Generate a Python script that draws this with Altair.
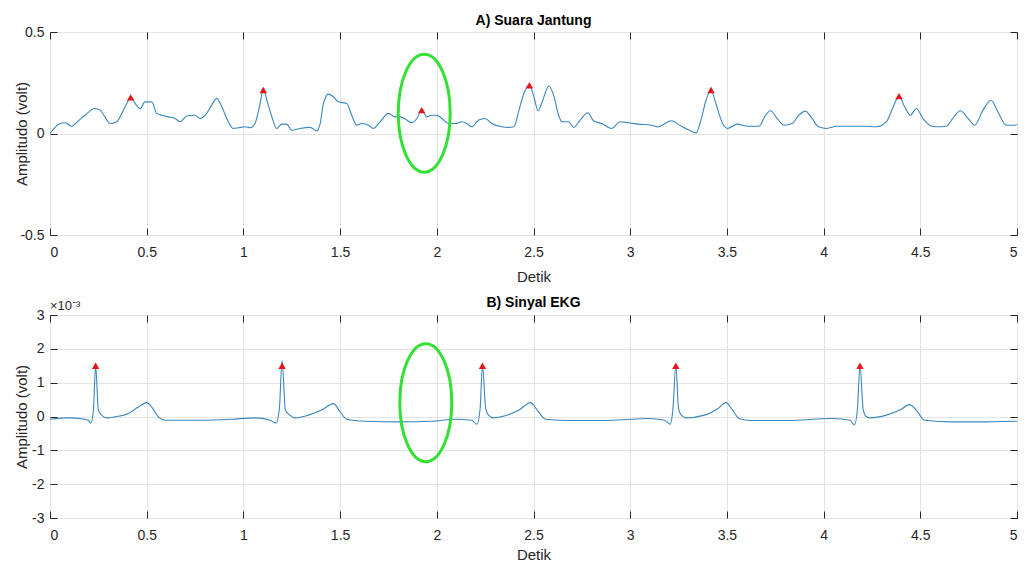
import altair as alt
import pandas as pd

# ---------------- data ----------------
# A) Suara Jantung (heart sound envelope), volts
pcg_t = [0, 0.052, 0.078, 0.112, 0.147, 0.181, 0.233, 0.259, 0.284, 0.310, 0.345, 0.371, 0.397, 0.417,
         0.440, 0.466, 0.491, 0.526, 0.552, 0.578, 0.612, 0.647, 0.672, 0.707, 0.750, 0.776, 0.810, 0.836,
         0.862, 0.888, 0.922, 0.948, 0.974, 1.009, 1.034, 1.060, 1.083, 1.103, 1.126, 1.150, 1.172, 1.198,
         1.224, 1.250, 1.293, 1.345, 1.379, 1.397, 1.414, 1.440, 1.466, 1.491, 1.534, 1.560, 1.586, 1.612,
         1.647, 1.672, 1.707, 1.750, 1.784, 1.810, 1.845, 1.871, 1.897, 1.922, 1.948, 1.974, 2.000, 2.026,
         2.060, 2.095, 2.129, 2.155, 2.181, 2.216, 2.250, 2.284, 2.336, 2.371, 2.399, 2.425, 2.450, 2.479,
         2.502, 2.524, 2.545, 2.579, 2.604, 2.630, 2.647, 2.682, 2.707, 2.741, 2.781, 2.810, 2.853, 2.904,
         2.947, 2.990, 3.041, 3.110, 3.144, 3.212, 3.264, 3.307, 3.341, 3.366, 3.392, 3.418, 3.443, 3.478,
         3.503, 3.555, 3.606, 3.666, 3.700, 3.726, 3.760, 3.795, 3.837, 3.872, 3.906, 3.940, 3.974, 4.017,
         4.068, 4.137, 4.205, 4.274, 4.325, 4.360, 4.390, 4.419, 4.449, 4.479, 4.514, 4.548, 4.582, 4.634,
         4.668, 4.707, 4.747, 4.781, 4.824, 4.866, 4.901, 4.945, 4.988, 5.0]
pcg_v = [0, 0.049, 0.053, 0.036, 0.063, 0.090, 0.123, 0.115, 0.082, 0.049, 0.058, 0.099, 0.148, 0.178,
         0.148, 0.123, 0.156, 0.156, 0.099, 0.090, 0.082, 0.074, 0.058, 0.086, 0.090, 0.074, 0.099, 0.140,
         0.173, 0.132, 0.058, 0.025, 0.028, 0.033, 0.028, 0.049, 0.132, 0.214, 0.148, 0.074, 0.025, 0.046,
         0.046, 0.016, 0.025, 0.030, 0.013, 0.049, 0.148, 0.194, 0.181, 0.156, 0.148, 0.090, 0.041, 0.049,
         0.041, 0.025, 0.058, 0.099, 0.082, 0.082, 0.066, 0.053, 0.074, 0.115, 0.082, 0.090, 0.090, 0.074,
         0.049, 0.049, 0.058, 0.049, 0.033, 0.066, 0.074, 0.049, 0.033, 0.030, 0.033, 0.115, 0.197, 0.238,
         0.181, 0.112, 0.156, 0.234, 0.189, 0.090, 0.058, 0.058, 0.030, 0.066, 0.102, 0.063, 0.049, 0.025,
         0.058, 0.053, 0.046, 0.041, 0.033, 0.063, 0.036, 0.016, 0.003, 0.066, 0.164, 0.214, 0.148, 0.049,
         0.025, 0.046, 0.036, 0.036, 0.090, 0.112, 0.074, 0.041, 0.049, 0.090, 0.110, 0.074, 0.033, 0.025,
         0.036, 0.036, 0.036, 0.033, 0.058, 0.132, 0.184, 0.132, 0.090, 0.123, 0.074, 0.041, 0.033, 0.036,
         0.074, 0.112, 0.074, 0.041, 0.115, 0.164, 0.107, 0.041, 0.041, 0.045]
pcg_peak_t = [0.417, 1.103, 1.922, 2.479, 3.418, 4.390]
pcg_peak_v = [0.178, 0.214, 0.115, 0.238, 0.214, 0.184]

# B) Sinyal EKG, values in units of 1e-3 volt
ekg_t = [0, 0.095, 0.181, 0.198, 0.21, 0.224, 0.236, 0.25, 0.267, 0.293, 0.336, 0.405, 0.457, 0.5, 0.526,
         0.56, 0.595, 0.767, 0.94, 1.06, 1.138, 1.169, 1.186, 1.2, 1.217, 1.24, 1.267, 1.336, 1.405, 1.466,
         1.5, 1.534, 1.63, 1.8, 1.974, 2.095, 2.181, 2.207, 2.224, 2.236, 2.253, 2.267, 2.293, 2.353, 2.425,
         2.485, 2.519, 2.562, 2.7, 2.87, 3.007, 3.092, 3.178, 3.207, 3.221, 3.236, 3.25, 3.264, 3.29, 3.384,
         3.452, 3.495, 3.529, 3.563, 3.623, 3.812, 4.045, 4.137, 4.159, 4.175, 4.188, 4.205, 4.222, 4.24,
         4.325, 4.394, 4.445, 4.479, 4.522, 4.668, 4.839, 4.985, 5.0]
ekg_v_milli = [-0.08, -0.04, -0.08, -0.11, -0.2, 0.14, 1.5, 0.19, 0.04, -0.04, -0.01, 0.09, 0.28, 0.41, 0.28,
               -0.01, -0.11, -0.11, -0.08, -0.04, -0.11, -0.2, 0.23, 1.65, 0.19, 0.04, -0.04, 0.04, 0.19, 0.38,
               0.14, -0.08, -0.14, -0.16, -0.14, -0.08, -0.11, -0.23, 0.23, 1.5, 0.23, 0.04, -0.04, 0.02, 0.19,
               0.41, 0.19, -0.08, -0.12, -0.12, -0.08, -0.06, -0.11, -0.23, 0.23, 1.5, 0.23, 0.04, -0.04, 0.04,
               0.23, 0.41, 0.19, -0.06, -0.12, -0.12, -0.06, -0.11, -0.25, 0.23, 1.5, 0.19, -0.01, -0.04,
               0.04, 0.19, 0.35, 0.19, -0.11, -0.16, -0.16, -0.14, -0.14]
ekg_peak_t = [0.236, 1.2, 2.236, 3.236, 4.188]
ekg_peak_v_milli = [1.5, 1.5, 1.5, 1.5, 1.5]

# highlighted region (green ellipse centres)
pcg_mark = {"t": [1.935], "v": [0.10]}
ekg_mark = {"t": [1.943], "v": [0.41e-3]}

x_ticks = [0, 0.5, 1, 1.5, 2, 2.5, 3, 3.5, 4, 4.5, 5]
pcg_y_ticks = [-0.5, 0, 0.5]
ekg_y_ticks = [-3e-3, -2e-3, -1e-3, 0, 1e-3, 2e-3, 3e-3]

# ---------------- styling ----------------
W, H = 967, 203
LINE = "#3a86bd"
RED = "#e3161b"
GREEN = "#33e033"
DARK = "#262626"
FONT = "Liberation Sans"
ELLIPSE = "M -0.44 0 A 0.44 1 0 1 0 0.44 0 A 0.44 1 0 1 0 -0.44 0 Z"
TICK_IN = {"expr": "-7"}

pcg_df = pd.DataFrame({"t": pcg_t, "v": pcg_v})
pcg_pk = pd.DataFrame({"t": pcg_peak_t, "v": pcg_peak_v})
ekg_df = pd.DataFrame({"t": ekg_t, "v": [v * 1e-3 for v in ekg_v_milli]})
ekg_pk = pd.DataFrame({"t": ekg_peak_t, "v": [v * 1e-3 for v in ekg_peak_v_milli]})


def panel(df, pk, mark, ydom, yticks, ylabel_expr, title, x_title_y, title_offset, extra_text=None):
    xs = alt.Scale(domain=[0, 5], nice=False, zero=False)
    ys = alt.Scale(domain=ydom, nice=False, zero=False)
    x_main = alt.X("t:Q", scale=xs, axis=alt.Axis(
        values=x_ticks, tickCount=len(x_ticks), title="Detik", labelExpr="'' + datum.value",
        tickSize=TICK_IN, labelPadding=17, titleY=x_title_y, grid=True, orient="bottom",
        labelOverlap=False))
    y_main = alt.Y("v:Q", scale=ys, axis=alt.Axis(
        values=yticks, tickCount=len(yticks), title="Amplitudo (volt)", labelExpr=ylabel_expr,
        tickSize=TICK_IN, labelPadding=13, titleX=-21, grid=True, orient="left",
        labelOverlap=False))
    line = alt.Chart(df).mark_line(color=LINE, strokeWidth=1.1, interpolate="monotone").encode(
        x=x_main, y=y_main)

    # invisible copy carrying the inward ticks on the top and right edges
    x_top = alt.X("t:Q", scale=xs, axis=alt.Axis(
        values=x_ticks, tickCount=len(x_ticks), labels=False, title=None, tickSize=TICK_IN,
        grid=False, orient="top", minExtent=0, maxExtent=0, labelPadding=0))
    y_right = alt.Y("v:Q", scale=ys, axis=alt.Axis(
        values=yticks, tickCount=len(yticks), labels=False, title=None, tickSize=TICK_IN,
        grid=False, orient="right", minExtent=0, maxExtent=0, labelPadding=0))
    frame = alt.Chart(df).mark_line(opacity=0).encode(x=x_top, y=y_right)

    peaks = alt.Chart(pk).mark_point(shape="triangle-up", filled=True, color=RED, size=55,
                                     opacity=1).encode(x=alt.X("t:Q"), y=alt.Y("v:Q"))
    ell = alt.Chart(pd.DataFrame(mark)).mark_point(shape=ELLIPSE, filled=False, stroke=GREEN,
                                                   strokeWidth=3, size=13924, opacity=1).encode(
        x=alt.X("t:Q"), y=alt.Y("v:Q"))
    layers = [line, peaks, ell]
    if extra_text is not None:
        layers.append(extra_text)
    main = alt.layer(*layers)
    ch = alt.layer(main, frame).resolve_axis(x="independent", y="independent").properties(
        width=W, height=H,
        title=alt.TitleParams(title, fontSize=14, fontWeight="bold", font=FONT, color="#000000",
                              anchor="middle", offset=title_offset))
    return ch


pcg_chart = panel(pcg_df, pcg_pk, pcg_mark, [-0.5, 0.5], pcg_y_ticks, "'' + datum.value",
                  "A) Suara Jantung", 34, -3)

exp_text = alt.Chart(pd.DataFrame({"s": ["\u00d710\u207b\u00b3"]})).mark_text(
    align="left", baseline="bottom", font=FONT, fontSize=13, color=DARK).encode(
    x=alt.value(0), y=alt.value(-2), text="s:N")

ekg_chart = panel(ekg_df, ekg_pk, ekg_mark, [-3e-3, 3e-3], ekg_y_ticks,
                  "'' + round(datum.value * 1000)", "B) Sinyal EKG", 29, -10,
                  extra_text=exp_text)

chart = alt.vconcat(pcg_chart, ekg_chart, spacing=10,
                    padding={"left": 5, "top": 5, "right": 0, "bottom": 0},
                    background="white").configure_view(
    stroke=DARK, strokeWidth=1
).configure_axis(
    domain=False, gridColor="#e3e3e3", gridWidth=1, tickColor=DARK, tickWidth=1,
    labelFont=FONT, labelFontSize=14, labelColor=DARK,
    titleFont=FONT, titleFontSize=15, titleFontWeight="normal", titleColor=DARK
)

chart.save("out.html", embed_options={"renderer": "svg", "actions": False})
